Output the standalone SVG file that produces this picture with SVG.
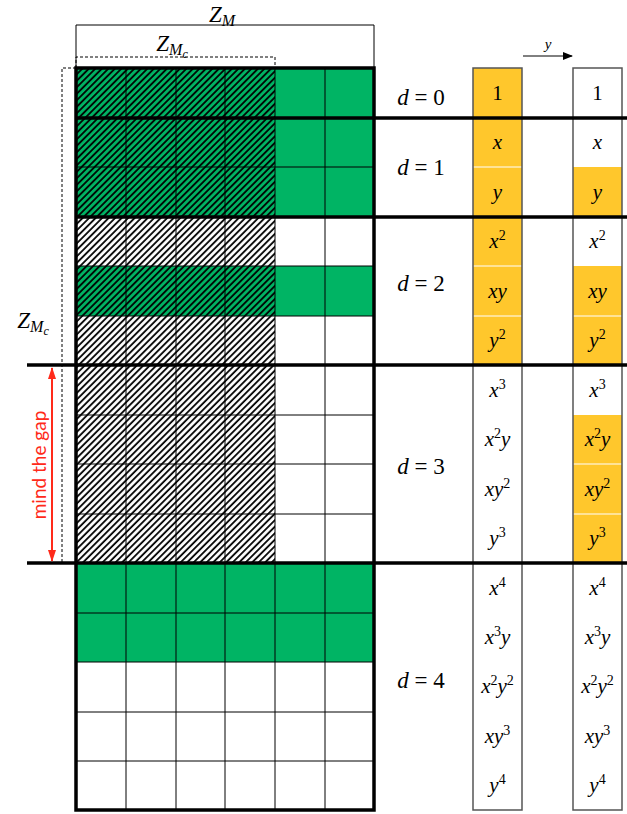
<svg xmlns="http://www.w3.org/2000/svg" width="627" height="814" viewBox="0 0 627 814">
<defs>
<pattern id="hatch" patternUnits="userSpaceOnUse" width="4.6" height="4.6" patternTransform="rotate(45)">
<line x1="1" y1="0" x2="1" y2="4.6" stroke="#000" stroke-width="1.8"/>
</pattern>
<marker id="arr" markerWidth="10" markerHeight="8" refX="9" refY="4" orient="auto" markerUnits="userSpaceOnUse">
<path d="M0,0 L10,4 L0,8 z" fill="#000"/>
</marker>
<marker id="rarr" markerWidth="12" markerHeight="8" refX="11" refY="4" orient="auto-start-reverse" markerUnits="userSpaceOnUse">
<path d="M0,0 L12,4 L0,8 z" fill="#FF2A1A"/>
</marker>
</defs>
<style>
.g{fill:#00B464}
.w{fill:#fff}
.h{fill:url(#hatch)}
.y{fill:#FFC72C}
.thin{stroke:#000;stroke-width:1;fill:none}
.thick{stroke:#000;stroke-width:3.5;fill:none}
.col{stroke:#555;stroke-width:1.5;fill:none}
.sep{stroke:#fff;stroke-width:1}
.m{font-family:"Liberation Serif",serif;font-size:21px;text-anchor:middle;fill:#000}
.i{font-style:italic}
.s{font-size:14px}
.lab{font-family:"Liberation Serif",serif;font-size:23px;font-style:italic;text-anchor:middle;fill:#000}
.sub{font-size:16px}
.sub2{font-size:12px}
</style>
<rect x="0" y="0" width="627" height="814" fill="#fff"/>

<g id="grid">
<rect class="g" x="76" y="68" width="298" height="149"/>
<rect class="g" x="76" y="266" width="298" height="50"/>
<rect class="g" x="76" y="563" width="298" height="99"/>
<rect class="h" x="76" y="68" width="199" height="495"/>
<g class="thin">
<line x1="126" y1="68" x2="126" y2="810"/>
<line x1="176" y1="68" x2="176" y2="810"/>
<line x1="225" y1="68" x2="225" y2="810"/>
<line x1="275" y1="68" x2="275" y2="810"/>
<line x1="325" y1="68" x2="325" y2="810"/>
<line x1="76" y1="167" x2="374" y2="167"/>
<line x1="76" y1="266" x2="374" y2="266"/>
<line x1="76" y1="316" x2="374" y2="316"/>
<line x1="76" y1="415" x2="374" y2="415"/>
<line x1="76" y1="464" x2="374" y2="464"/>
<line x1="76" y1="514" x2="374" y2="514"/>
<line x1="76" y1="613" x2="374" y2="613"/>
<line x1="76" y1="662" x2="374" y2="662"/>
<line x1="76" y1="712" x2="374" y2="712"/>
<line x1="76" y1="761" x2="374" y2="761"/>
</g>
<rect class="thick" x="76" y="68" width="298" height="742"/>
</g>

<g id="col1">
<rect class="y" x="473" y="68" width="49" height="297"/>
<g class="sep">
<line x1="473" y1="167" x2="522" y2="167"/>
<line x1="473" y1="266" x2="522" y2="266"/>
<line x1="473" y1="316" x2="522" y2="316"/>
</g>
<rect class="col" x="473" y="68" width="49" height="742"/>
<text class="m" x="497.5" y="100">1</text>
<text class="m i" x="497.5" y="149">x</text>
<text class="m i" x="497.5" y="199">y</text>
<text class="m" x="497.5" y="248"><tspan class="i">x</tspan><tspan class="s" dy="-8">2</tspan></text>
<text class="m i" x="497.5" y="298">xy</text>
<text class="m" x="497.5" y="347"><tspan class="i">y</tspan><tspan class="s" dy="-8">2</tspan></text>
<text class="m" x="497.5" y="397"><tspan class="i">x</tspan><tspan class="s" dy="-8">3</tspan></text>
<text class="m" x="497.5" y="446"><tspan class="i">x</tspan><tspan class="s" dy="-8">2</tspan><tspan class="i" dy="8">y</tspan></text>
<text class="m" x="497.5" y="496"><tspan class="i">xy</tspan><tspan class="s" dy="-8">2</tspan></text>
<text class="m" x="497.5" y="545"><tspan class="i">y</tspan><tspan class="s" dy="-8">3</tspan></text>
<text class="m" x="497.5" y="595"><tspan class="i">x</tspan><tspan class="s" dy="-8">4</tspan></text>
<text class="m" x="497.5" y="644"><tspan class="i">x</tspan><tspan class="s" dy="-8">3</tspan><tspan class="i" dy="8">y</tspan></text>
<text class="m" x="497.5" y="693"><tspan class="i">x</tspan><tspan class="s" dy="-8">2</tspan><tspan class="i" dy="8">y</tspan><tspan class="s" dy="-8">2</tspan></text>
<text class="m" x="497.5" y="743"><tspan class="i">xy</tspan><tspan class="s" dy="-8">3</tspan></text>
<text class="m" x="497.5" y="792"><tspan class="i">y</tspan><tspan class="s" dy="-8">4</tspan></text>
</g>

<g id="col2">
<rect class="y" x="573" y="167" width="49" height="50"/>
<rect class="y" x="573" y="266" width="49" height="99"/>
<rect class="y" x="573" y="415" width="49" height="148"/>
<g class="sep">
<line x1="573" y1="316" x2="622" y2="316"/>
<line x1="573" y1="464" x2="622" y2="464"/>
<line x1="573" y1="514" x2="622" y2="514"/>
</g>
<rect class="col" x="573" y="68" width="49" height="742"/>
<text class="m" x="597.5" y="100">1</text>
<text class="m i" x="597.5" y="149">x</text>
<text class="m i" x="597.5" y="199">y</text>
<text class="m" x="597.5" y="248"><tspan class="i">x</tspan><tspan class="s" dy="-8">2</tspan></text>
<text class="m i" x="597.5" y="298">xy</text>
<text class="m" x="597.5" y="347"><tspan class="i">y</tspan><tspan class="s" dy="-8">2</tspan></text>
<text class="m" x="597.5" y="397"><tspan class="i">x</tspan><tspan class="s" dy="-8">3</tspan></text>
<text class="m" x="597.5" y="446"><tspan class="i">x</tspan><tspan class="s" dy="-8">2</tspan><tspan class="i" dy="8">y</tspan></text>
<text class="m" x="597.5" y="496"><tspan class="i">xy</tspan><tspan class="s" dy="-8">2</tspan></text>
<text class="m" x="597.5" y="545"><tspan class="i">y</tspan><tspan class="s" dy="-8">3</tspan></text>
<text class="m" x="597.5" y="595"><tspan class="i">x</tspan><tspan class="s" dy="-8">4</tspan></text>
<text class="m" x="597.5" y="644"><tspan class="i">x</tspan><tspan class="s" dy="-8">3</tspan><tspan class="i" dy="8">y</tspan></text>
<text class="m" x="597.5" y="693"><tspan class="i">x</tspan><tspan class="s" dy="-8">2</tspan><tspan class="i" dy="8">y</tspan><tspan class="s" dy="-8">2</tspan></text>
<text class="m" x="597.5" y="743"><tspan class="i">xy</tspan><tspan class="s" dy="-8">3</tspan></text>
<text class="m" x="597.5" y="792"><tspan class="i">y</tspan><tspan class="s" dy="-8">4</tspan></text>
</g>

<g id="degrees">
<text class="m" x="421" y="105" style="font-size:23px"><tspan class="i">d</tspan> = 0</text>
<text class="m" x="421" y="175" style="font-size:23px"><tspan class="i">d</tspan> = 1</text>
<text class="m" x="421" y="291" style="font-size:23px"><tspan class="i">d</tspan> = 2</text>
<text class="m" x="421" y="474" style="font-size:23px"><tspan class="i">d</tspan> = 3</text>
<text class="m" x="421" y="688" style="font-size:23px"><tspan class="i">d</tspan> = 4</text>
</g>

<g id="connectors">
<line class="thick" x1="76" y1="118" x2="627" y2="118"/>
<line class="thick" x1="76" y1="217" x2="627" y2="217"/>
<line class="thick" x1="27" y1="365" x2="627" y2="365"/>
<line class="thick" x1="27" y1="563" x2="627" y2="563"/>
<path d="M76,68 V25 H374 V68" fill="none" stroke="#000" stroke-width="1"/>
<path d="M76,68 V57 H275 V68" fill="none" stroke="#000" stroke-width="1" stroke-dasharray="3,2"/>
<path d="M76,68 H62 V563" fill="none" stroke="#000" stroke-width="1" stroke-dasharray="3,2"/>
<line x1="523" y1="56" x2="572" y2="56" stroke="#000" stroke-width="1" marker-end="url(#arr)"/>
<line x1="52" y1="368" x2="52" y2="561" stroke="#FF2A1A" stroke-width="2" marker-start="url(#rarr)" marker-end="url(#rarr)"/>
</g>

<g id="labels">
<text class="lab" x="222" y="22">Z<tspan class="sub" dy="4">M</tspan></text>
<text class="lab" x="172" y="51">Z<tspan class="sub" dy="4">M</tspan><tspan class="sub2" dy="3">c</tspan></text>
<text class="lab" x="33" y="328">Z<tspan class="sub" dy="4">M</tspan><tspan class="sub2" dy="3">c</tspan></text>
<text class="lab" x="548" y="49" style="font-size:15px">y</text>
<text x="0" y="0" transform="translate(46,465) rotate(-90)" font-family="Lato, 'Liberation Sans', sans-serif" font-size="19" fill="#FF2A1A" text-anchor="middle">mind the gap</text>
</g>
</svg>
